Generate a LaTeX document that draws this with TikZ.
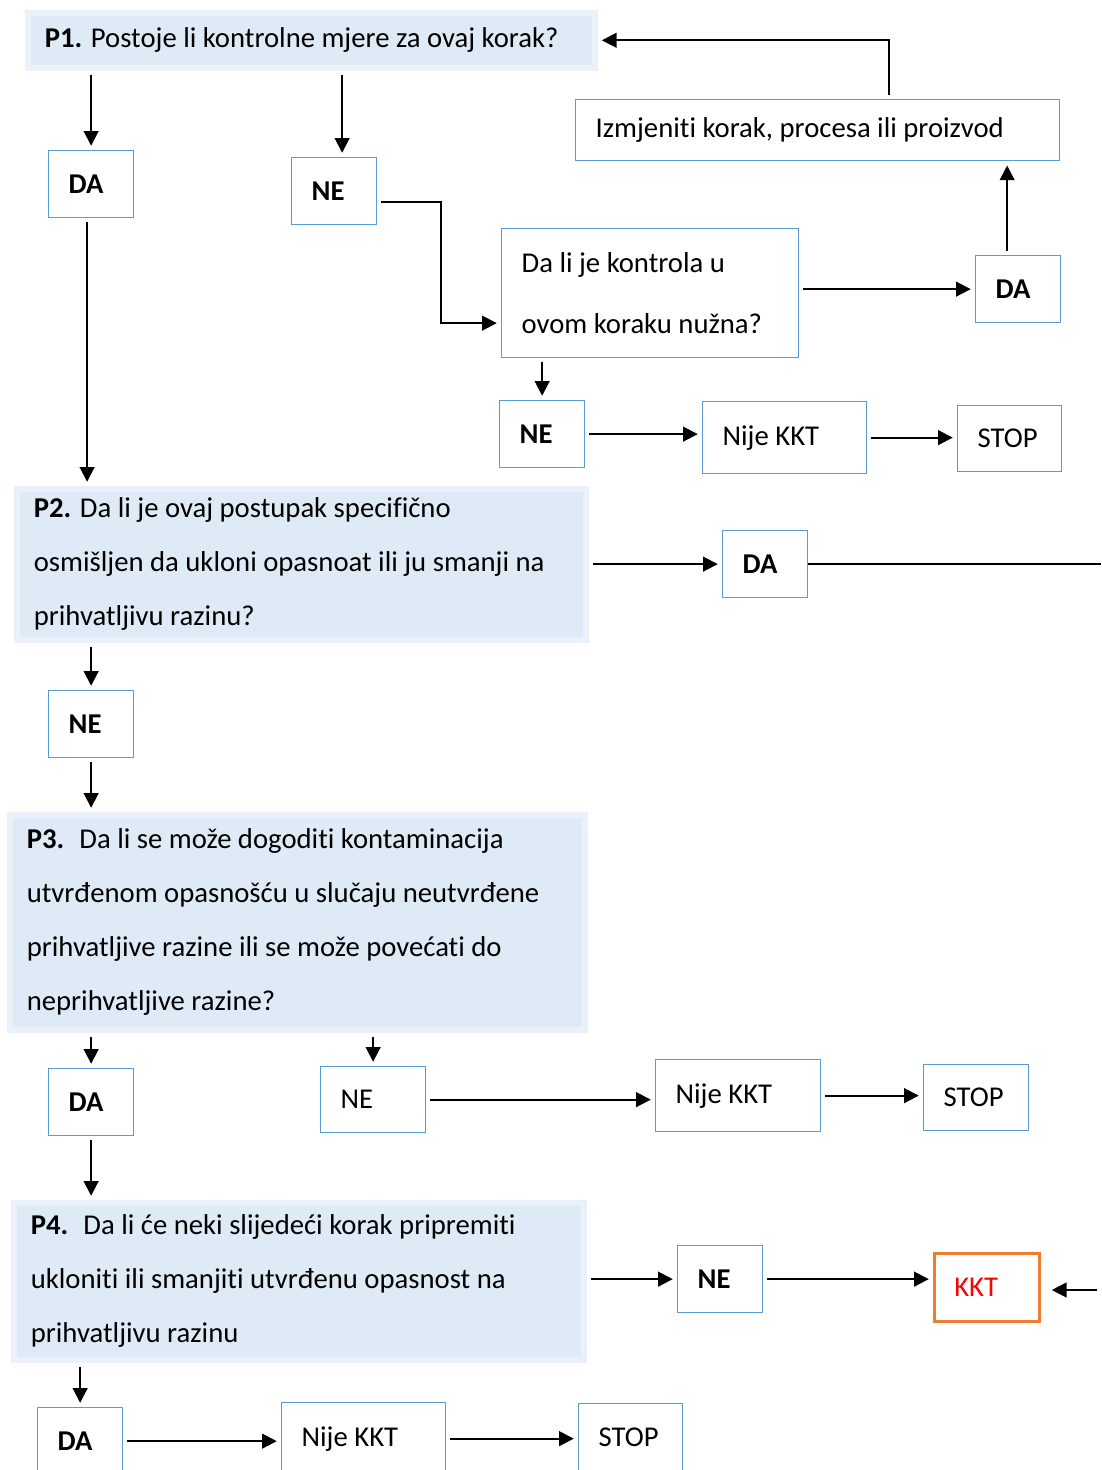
\documentclass[tikz,border=0pt]{standalone}
\usepackage{fontspec}
\setmainfont{Carlito}[RawFeature={-liga;-clig;-calt;-dlig}]
\usetikzlibrary{arrows.meta}
\definecolor{boxblue}{RGB}{91,155,213}
\definecolor{qfill}{RGB}{222,234,246}
\definecolor{qedge}{RGB}{235,241,250}
\definecolor{kktorange}{RGB}{237,125,49}
\definecolor{kktred}{RGB}{255,0,0}
\newlength{\pxu}
\setlength{\pxu}{0.025cm}

\begin{document}
\begin{tikzpicture}[x=0.025cm, y=-0.025cm]
	\tikzstyle{ans} = [draw=boxblue, line width=0.9pt, fill=white, anchor=north west, align=flush left, inner xsep=20*\pxu, font={\fontsize{20.4}{25}\selectfont}];
	\tikzstyle{ansb} = [ans, font={\fontsize{20.4}{25}\selectfont\bfseries}];
	\tikzstyle{quest} = [fill=qfill, draw=qedge, line width=4pt, anchor=north west, align=flush left, inner xsep=17*\pxu, font={\fontsize{20.4}{38.4}\selectfont}];
	\tikzstyle{line} = [line width=1.4pt];
	\tikzstyle{arr} = [line, -{Triangle[length=10.5pt, width=10.5pt]}, shorten >=3pt, shorten <=3pt];

	\useasboundingbox (0,0) rectangle (1101,1470);
	\clip (0,0) rectangle (1101,1470);

	% questions
	\node[quest, text width=533*\pxu, minimum height=55*\pxu] (p1) at (25,10) {\textbf{P1.} Postoje li kontrolne mjere za ovaj korak?};
	\node[quest, text width=535*\pxu, minimum height=151*\pxu] (p2) at (14,486) {\textbf{P2.} Da li je ovaj postupak specifično\\osmišljen da ukloni opasnoat ili ju smanji na\\prihvatljivu razinu?};
	\node[quest, text width=541*\pxu, minimum height=215*\pxu] (p3) at (7,812) {\textbf{P3.}~ Da li se može dogoditi kontaminacija\\utvrđenom opasnošću u slučaju neutvrđene\\prihvatljive razine ili se može povećati do\\neprihvatljive razine?};
	\node[quest, text width=536*\pxu, minimum height=157*\pxu] (p4) at (11,1200) {\textbf{P4.}~ Da li će neki slijedeći korak pripremiti\\ukloniti ili smanjiti utvrđenu opasnost na\\prihvatljivu razinu};

	% answers
	\foreach \nm/\x/\y/\txt in {da1/48/150/DA, ne1/291/157/NE, da2/975/255/DA, ne2/499/400/NE, da3/722/530/DA, ne3/48/690/NE, da4/48/1068/DA, ne5/677/1245/NE, da5/37/1407/DA}
		\node[ansb, text width=45*\pxu, minimum height=67*\pxu] (\nm) at (\x,\y) {\txt};

	\node[ans, text width=257*\pxu, minimum height=129*\pxu, font={\fontsize{20.4}{42.7}\selectfont}] (q1) at (501,228) {Da li je kontrola u\\ovom koraku nužna?};
	\node[ans, text width=444*\pxu, minimum height=61*\pxu] (izm) at (575,99) {Izmjeniti korak, procesa ili proizvod};
	\node[ans, text width=65*\pxu, minimum height=66*\pxu] (ne4) at (320,1066) {NE};
	\node[ans, text width=124*\pxu, minimum height=72*\pxu] (nk1) at (702,401) {Nije KKT};
	\node[ans, text width=125*\pxu, minimum height=72*\pxu] (nk2) at (655,1059) {Nije KKT};
	\node[ans, text width=124*\pxu, minimum height=72*\pxu] (nk3) at (281,1402) {Nije KKT};
	\node[ans, text width=64*\pxu, minimum height=66*\pxu] (stop1) at (957,405) {STOP};
	\node[ans, text width=65*\pxu, minimum height=66*\pxu] (stop2) at (923,1064) {STOP};
	\node[ans, text width=64*\pxu, minimum height=67*\pxu] (stop3) at (578,1403) {STOP};
	\node[ans, draw=kktorange, line width=1.8pt, text=kktred, text width=65*\pxu, minimum height=68*\pxu] (kkt) at (933,1252) {KKT};

	\coordinate (edgeA) at (1101,568);
	\coordinate (edgeB) at (1101,1290);

	% connectors
	\draw[arr] (p1.south -| da1) -- (da1.north);
	\draw[arr] ([xshift=8*\pxu]p1.south -| ne1.north) -- ([xshift=8*\pxu]ne1.north);
	\draw[arr] ([yshift=-11*\pxu]ne1.east) -- ++(64,0) |- ([yshift=-30*\pxu]q1.west);
	\draw[arr] (q1.east |- da2) -- (da2.west);
	\draw[arr] ([xshift=-11*\pxu]da2.north) -- ([xshift=-11*\pxu]da2.north |- izm.south);
	\draw[arr] ([xshift=71*\pxu]izm.north) |- (p1.east);
	\draw[arr] (q1.south -| ne2) -- (ne2.north);
	\draw[arr] (ne2.east) -- (ne2.east -| nk1.west);
	\draw[arr] (nk1.east) -- (nk1.east -| stop1.west);
	\draw[arr] ([xshift=-4*\pxu]da1.south) -- ([xshift=-4*\pxu]da1.south |- p2.north);
	\draw[arr] (p2.east |- da3) -- (da3.west);
	\draw[line] (da3.east) -- (da3.east -| edgeA);
	\draw[arr] (p2.south -| ne3) -- (ne3.north);
	\draw[arr] (ne3.south) -- (ne3.south |- p3.north);
	\draw[arr] (p3.south -| da4) -- (da4.north);
	\draw[arr] (p3.south -| ne4) -- (ne4.north);
	\draw[arr] (ne4.east) -- (ne4.east -| nk2.west);
	\draw[arr] (nk2.east) -- (nk2.east -| stop2.west);
	\draw[arr] (da4.south) -- (da4.south |- p4.north);
	\draw[arr] (p4.east |- ne5) -- (ne5.west);
	\draw[arr] (ne5.east) -- (ne5.east -| kkt.west);
	\draw[arr, shorten >=8pt] (edgeB) -- (edgeB -| kkt.east);
	\draw[arr] (p4.south -| da5) -- (da5.north);
	\draw[arr] (da5.east) -- (da5.east -| nk3.west);
	\draw[arr] (nk3.east) -- (nk3.east -| stop3.west);
\end{tikzpicture}
\end{document}
